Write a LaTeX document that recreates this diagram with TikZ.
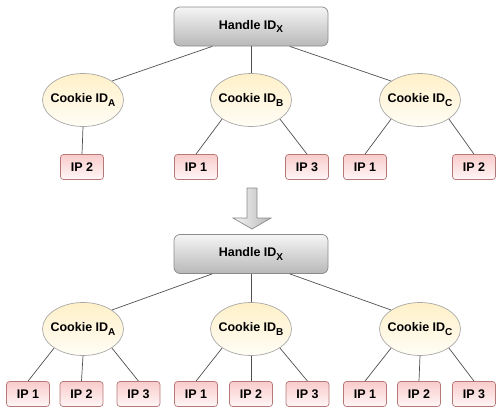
\documentclass[tikz,border=0pt]{standalone}
\usepackage{fontspec}
\setmainfont{Liberation Sans}
\usetikzlibrary{shapes.geometric,calc}

\definecolor{edgegray}{HTML}{505050}
\definecolor{handleline}{HTML}{8A8A8A}
\definecolor{handletop}{HTML}{F5F5F5}
\definecolor{handlebot}{HTML}{B8B8B8}
\definecolor{cookieline}{HTML}{A8A8A8}
\definecolor{cookietop}{HTML}{FFF0C8}
\definecolor{cookiebot}{HTML}{FFFDF6}
\definecolor{ipline}{HTML}{B57A78}
\definecolor{iptop}{HTML}{F8CCCB}
\definecolor{ipbot}{HTML}{FFF6F6}

\newcommand{\idsub}[1]{\raisebox{-0.3em}{\fontsize{10}{11}\selectfont #1}}

\begin{document}
\begin{tikzpicture}[x=1pt, y=-1pt, font=\fontsize{12.5}{14}\selectfont\bfseries,
    handle/.style={rectangle, rounded corners=6pt, draw=handleline, line width=0.7pt, top color=handletop, bottom color=handlebot, minimum width=154pt, minimum height=39pt},
    cookie/.style={ellipse, draw=cookieline, line width=0.7pt, top color=cookietop, bottom color=cookiebot, minimum width=81pt, minimum height=53pt, inner xsep=-12pt, inner ysep=0pt},
    ip/.style={rectangle, rounded corners=3pt, draw=ipline, line width=0.7pt, top color=iptop, bottom color=ipbot, minimum width=43pt, minimum height=25pt, inner sep=0pt},
    link/.style={draw=edgegray, line width=0.7pt}]
    \useasboundingbox (0,0) rectangle (496,407);

    % before
    \node[handle] (hx1) at (251, 26.5) {Handle ID\idsub{X}};
    \node[cookie] (ca1) at (83, 100) {Cookie ID\idsub{A}};
    \node[cookie] (cb1) at (251, 100) {Cookie ID\idsub{B}};
    \node[cookie] (cc1) at (420, 100) {Cookie ID\idsub{C}};
    \node[ip] (a2) at (82, 167) {IP 2};
    \node[ip] (b1) at (196, 167) {IP 1};
    \node[ip] (b3) at (307, 167) {IP 3};
    \node[ip] (c1) at (365, 167) {IP 1};
    \node[ip] (c2) at (474, 167) {IP 2};
    \draw[link] ($(hx1.south west)!.25!(hx1.south east)$) -- (ca1.north east);
    \draw[link] (hx1.south) -- (cb1.north);
    \draw[link] ($(hx1.south west)!.75!(hx1.south east)$) -- (cc1.north west);
    \draw[link] (ca1.south) -- (a2.north);
    \draw[link] (cb1.south west) -- (b1.north);
    \draw[link] (cb1.south east) -- (b3.north);
    \draw[link] (cc1.south west) -- (c1.north);
    \draw[link] (cc1.south east) -- (c2.north);

    % merge arrow
    \draw[draw=handleline, line width=0.7pt, left color=handletop, right color=handlebot]
        (247,188) -- (257,188) -- (257,218) -- (271,218) -- (252,229) -- (233,218) -- (247,218) -- cycle;

    % after
    \node[handle] (hx2) at (251, 254) {Handle ID\idsub{X}};
    \node[cookie] (ca2) at (83, 329) {Cookie ID\idsub{A}};
    \node[cookie] (cb2) at (251, 329) {Cookie ID\idsub{B}};
    \node[cookie] (cc2) at (420, 329) {Cookie ID\idsub{C}};
    \node[ip] (p1) at (28, 394) {IP 1};
    \node[ip] (p2) at (81.5, 394) {IP 2};
    \node[ip] (p3) at (138.5, 394) {IP 3};
    \node[ip] (p4) at (196, 394) {IP 1};
    \node[ip] (p5) at (251, 394) {IP 2};
    \node[ip] (p6) at (307.5, 394) {IP 3};
    \node[ip] (p7) at (365, 394) {IP 1};
    \node[ip] (p8) at (419, 394) {IP 2};
    \node[ip] (p9) at (474, 394) {IP 3};
    \draw[link] ($(hx2.south west)!.25!(hx2.south east)$) -- (ca2.north east);
    \draw[link] (hx2.south) -- (cb2.north);
    \draw[link] ($(hx2.south west)!.75!(hx2.south east)$) -- (cc2.north west);
    \draw[link] (ca2.south west) -- (p1.north);
    \draw[link] (ca2.south) -- (p2.north);
    \draw[link] (ca2.south east) -- (p3.north);
    \draw[link] (cb2.south west) -- (p4.north);
    \draw[link] (cb2.south) -- (p5.north);
    \draw[link] (cb2.south east) -- (p6.north);
    \draw[link] (cc2.south west) -- (p7.north);
    \draw[link] (cc2.south) -- (p8.north);
    \draw[link] (cc2.south east) -- (p9.north);
\end{tikzpicture}
\end{document}
